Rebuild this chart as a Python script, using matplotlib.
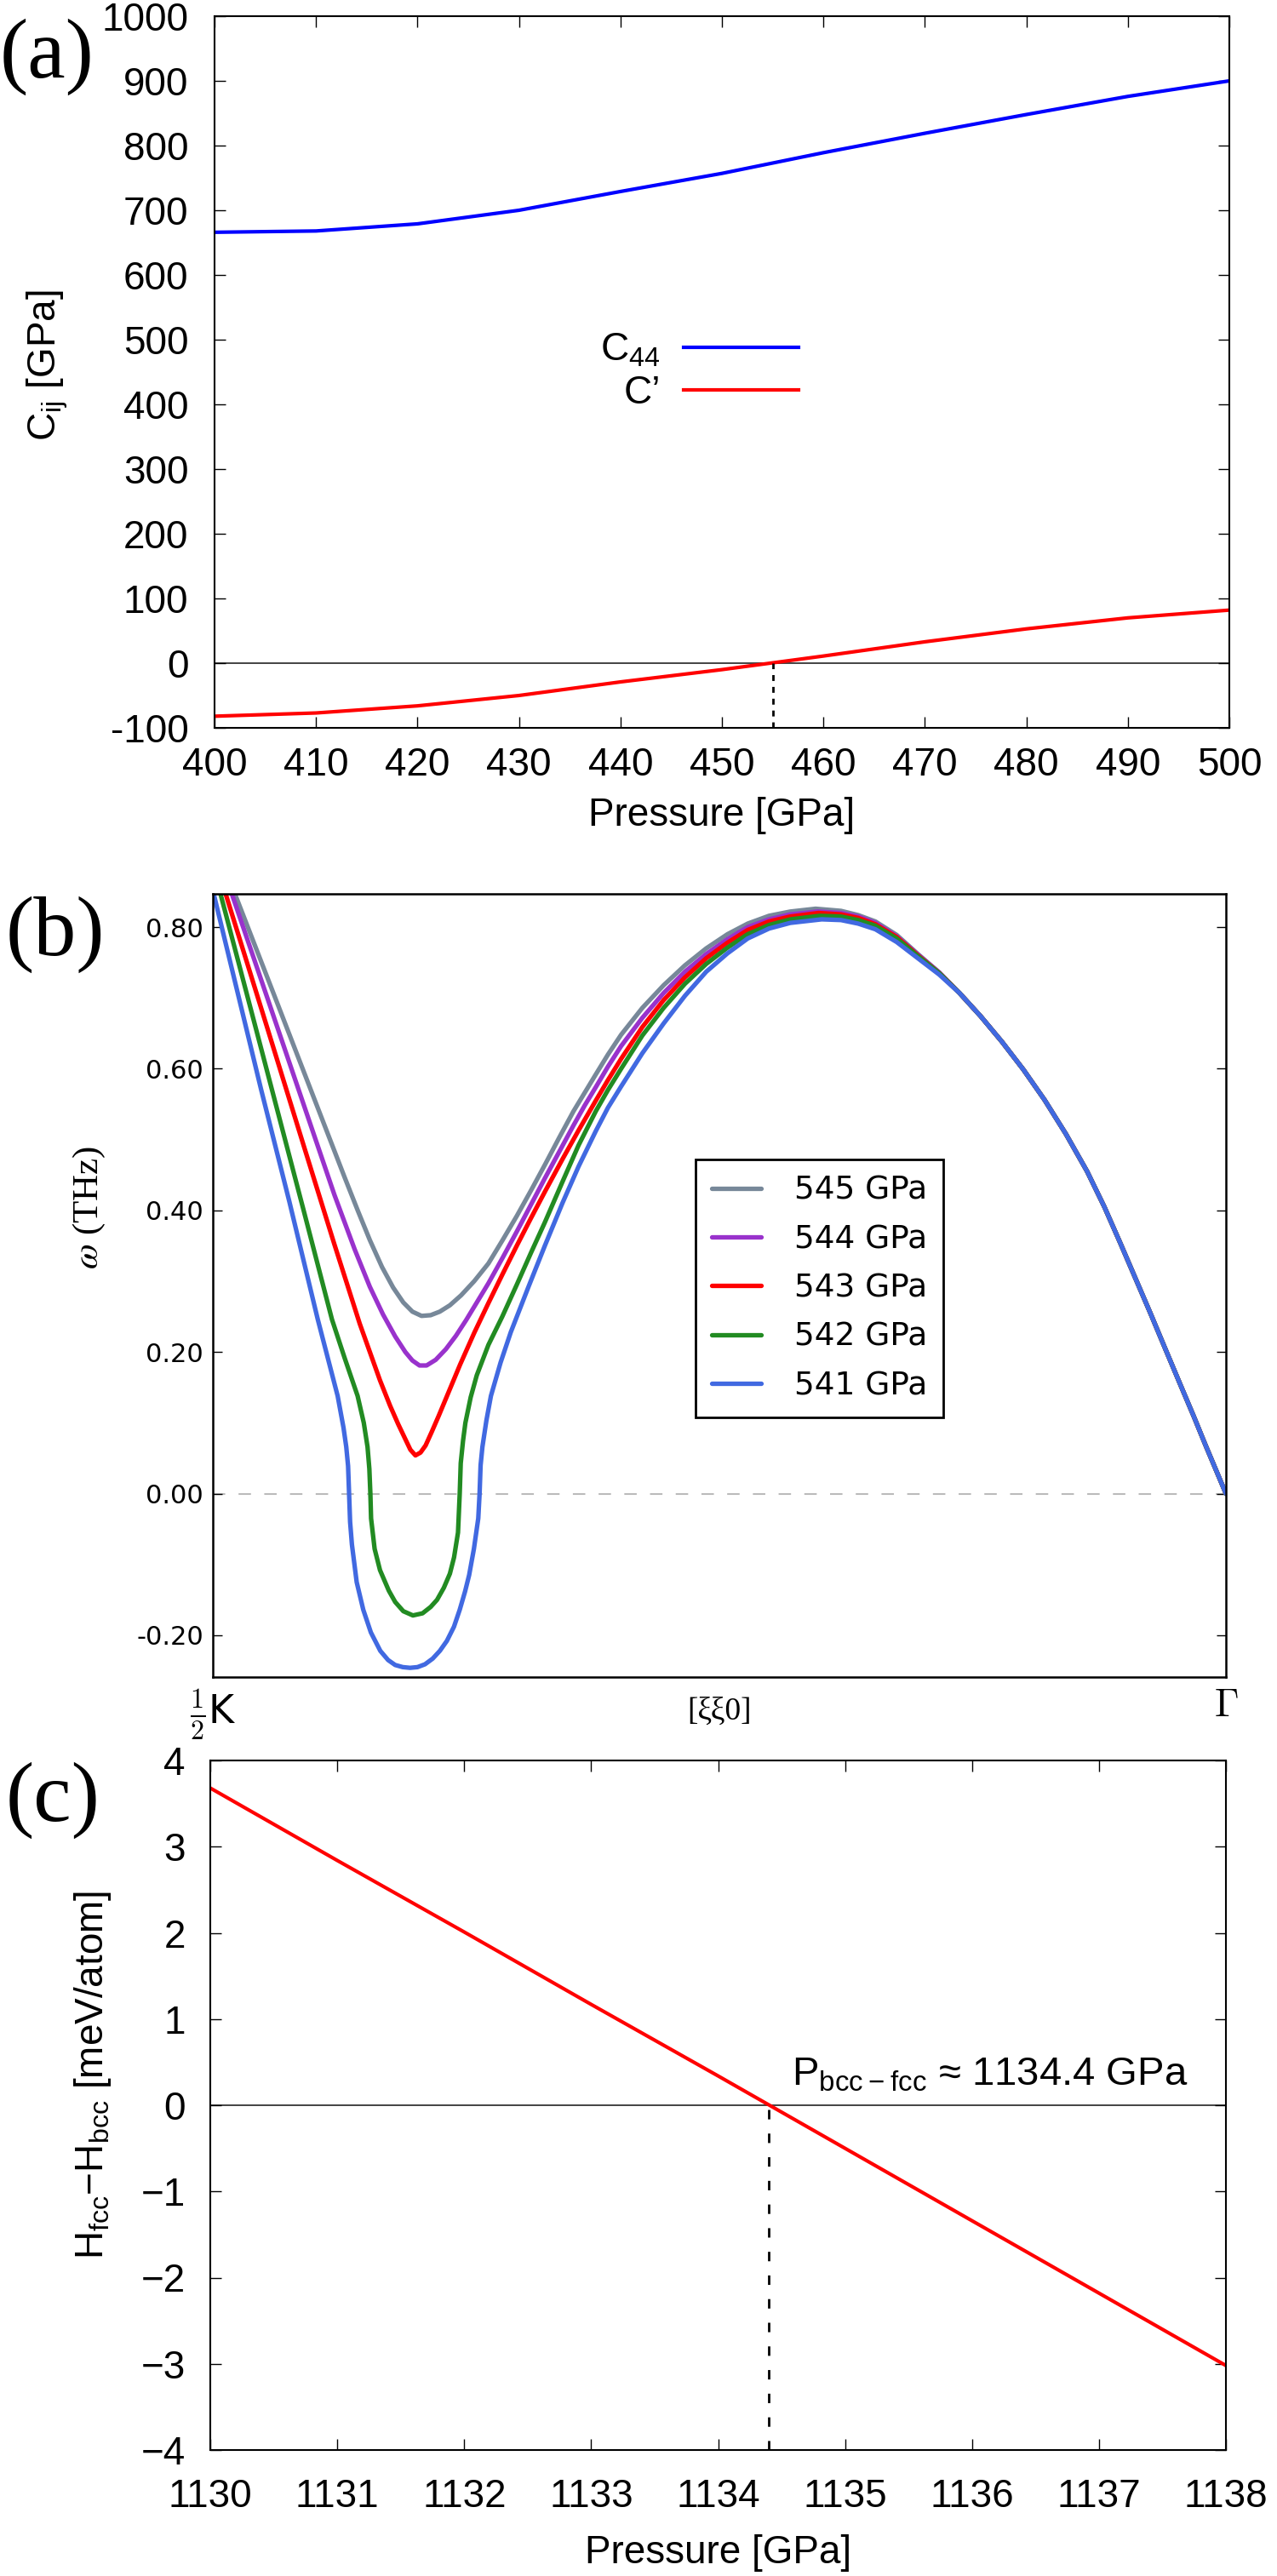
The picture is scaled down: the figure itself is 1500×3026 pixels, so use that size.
import matplotlib
matplotlib.use("Agg")
import matplotlib.pyplot as plt
from matplotlib.ticker import FuncFormatter, MultipleLocator

plt.rcParams['font.family'] = ['Liberation Sans', 'DejaVu Sans']

# ---- panel (a): elastic constants vs pressure
pressure_a = [400, 410, 420, 430, 440, 450, 460, 470, 480, 490, 500]
c44 = [666, 668, 679, 700, 729, 757, 789, 819, 848, 876, 900]
c_prime = [-82, -77, -66, -50, -29, -10, 11, 33, 53, 70, 82]
p_cross_a = 455

# ---- panel (b): phonon branch along [xi xi 0]
# all five pressures coincide past q ~ 0.73
q_tail = [0.737, 0.758, 0.779, 0.800, 0.821, 0.842, 0.863, 0.880,
          0.896, 0.911, 0.926, 0.940, 0.955, 0.968, 0.980, 1.000]
w_tail = [0.707, 0.674, 0.638, 0.599, 0.556, 0.508, 0.455, 0.405,
          0.353, 0.303, 0.253, 0.205, 0.154, 0.110, 0.068, 0.000]

q_545 = [0.000, 0.021, 0.060, 0.100, 0.130, 0.143, 0.155, 0.167, 0.178, 0.188,
         0.197, 0.206, 0.215, 0.224, 0.234, 0.245, 0.258, 0.272, 0.286, 0.300,
         0.314, 0.328, 0.342, 0.356, 0.367, 0.378, 0.390, 0.403, 0.424, 0.445,
         0.466, 0.487, 0.508, 0.528, 0.549, 0.570, 0.595, 0.620, 0.637, 0.654,
         0.675, 0.696, 0.717]
w_545 = [0.928, 0.850, 0.706, 0.558, 0.447, 0.400, 0.358, 0.320, 0.291, 0.270,
         0.257, 0.251, 0.252, 0.257, 0.266, 0.280, 0.300, 0.325, 0.358, 0.392,
         0.428, 0.465, 0.503, 0.540, 0.566, 0.592, 0.620, 0.648, 0.686, 0.718,
         0.746, 0.770, 0.790, 0.805, 0.816, 0.822, 0.826, 0.823, 0.817, 0.808,
         0.789, 0.762, 0.736]

q_544 = [0.000, 0.018, 0.050, 0.090, 0.120, 0.140, 0.155, 0.168, 0.180, 0.190,
         0.197, 0.204, 0.211, 0.220, 0.230, 0.240, 0.250, 0.261, 0.272, 0.286,
         0.300, 0.314, 0.328, 0.342, 0.356, 0.367, 0.378, 0.390, 0.403, 0.424,
         0.445, 0.466, 0.487, 0.508, 0.528, 0.549, 0.570, 0.597, 0.620, 0.637,
         0.654, 0.675, 0.696, 0.717]
w_544 = [0.926, 0.850, 0.716, 0.548, 0.422, 0.345, 0.292, 0.253, 0.222, 0.200,
         0.188, 0.181, 0.181, 0.189, 0.204, 0.223, 0.245, 0.271, 0.297, 0.333,
         0.370, 0.408, 0.446, 0.483, 0.520, 0.548, 0.574, 0.603, 0.632, 0.672,
         0.707, 0.737, 0.762, 0.783, 0.800, 0.811, 0.818, 0.822, 0.820, 0.815,
         0.806, 0.787, 0.761, 0.736]

q_543 = [0.000, 0.012, 0.050, 0.090, 0.120, 0.145, 0.165, 0.175, 0.183, 0.190,
         0.195, 0.200, 0.205, 0.210, 0.216, 0.223, 0.230, 0.244, 0.258, 0.272,
         0.286, 0.300, 0.314, 0.328, 0.345, 0.361, 0.378, 0.390, 0.403, 0.424,
         0.445, 0.466, 0.487, 0.508, 0.528, 0.549, 0.570, 0.598, 0.620, 0.637,
         0.654, 0.675, 0.696, 0.717]
w_543 = [0.905, 0.850, 0.675, 0.490, 0.352, 0.240, 0.160, 0.124, 0.098, 0.077,
         0.062, 0.054, 0.058, 0.068, 0.087, 0.110, 0.134, 0.182, 0.227, 0.269,
         0.310, 0.350, 0.389, 0.427, 0.472, 0.513, 0.555, 0.584, 0.614, 0.659,
         0.697, 0.729, 0.756, 0.778, 0.796, 0.808, 0.815, 0.820, 0.818, 0.813,
         0.804, 0.786, 0.760, 0.735]

q_542 = [0.000, 0.007, 0.050, 0.090, 0.1176, 0.130, 0.1429, 0.149, 0.1527,
         0.1545, 0.1555, 0.1562, 0.1597, 0.165, 0.1737, 0.180, 0.188, 0.1975,
         0.207, 0.215, 0.2213, 0.228, 0.234, 0.2381, 0.242, 0.2437, 0.2447,
         0.2470, 0.2493, 0.2545, 0.2605, 0.2720, 0.2857, 0.300, 0.314, 0.3277,
         0.345, 0.361, 0.378, 0.390, 0.403, 0.424, 0.445, 0.466, 0.487, 0.508,
         0.528, 0.549, 0.570, 0.599, 0.620, 0.637, 0.654, 0.675, 0.696, 0.717]
w_542 = [0.888, 0.850, 0.616, 0.398, 0.246, 0.192, 0.138, 0.100, 0.066,
         0.035, 0.000, -0.035, -0.078, -0.108, -0.137, -0.153, -0.166, -0.172,
         -0.169, -0.160, -0.150, -0.133, -0.113, -0.090, -0.055, 0.000, 0.043,
         0.075, 0.100, 0.136, 0.167, 0.210, 0.250, 0.295, 0.340, 0.383,
         0.440, 0.492, 0.540, 0.570, 0.600, 0.647, 0.686, 0.720, 0.748, 0.771,
         0.790, 0.803, 0.811, 0.816, 0.815, 0.810, 0.802, 0.784, 0.759, 0.735]

q_541 = [0.000, 0.0476, 0.0756, 0.1036, 0.1232, 0.1290, 0.1317, 0.1335, 0.1345,
         0.1355, 0.1373, 0.1420, 0.1485, 0.1560, 0.1653, 0.1730, 0.1800, 0.1875,
         0.1947, 0.2020, 0.2094, 0.2170, 0.2241, 0.2310, 0.2380, 0.2437, 0.2490,
         0.2530, 0.2577, 0.2620, 0.2633, 0.2643, 0.2661, 0.2700, 0.2745, 0.2840,
         0.2941, 0.3110, 0.3277, 0.3450, 0.3610, 0.3780, 0.3900, 0.4030, 0.4240,
         0.4450, 0.4660, 0.4870, 0.5080, 0.5280, 0.5490, 0.5700, 0.6010, 0.6200,
         0.6370, 0.6540, 0.6750, 0.6960, 0.7170]
w_541 = [0.852, 0.571, 0.412, 0.246, 0.138, 0.093, 0.066, 0.039, 0.000,
         -0.040, -0.072, -0.125, -0.164, -0.196, -0.222, -0.235, -0.242, -0.245,
         -0.246, -0.245, -0.241, -0.233, -0.222, -0.208, -0.188, -0.164, -0.138,
         -0.115, -0.078, -0.035, 0.000, 0.040, 0.066, 0.103, 0.138, 0.185,
         0.228, 0.290, 0.350, 0.410, 0.462, 0.512, 0.545, 0.575, 0.622,
         0.664, 0.703, 0.737, 0.763, 0.784, 0.798, 0.806, 0.811, 0.810,
         0.805, 0.797, 0.779, 0.756, 0.733]

branches = [
    ("545 GPa", "#778899", q_545, w_545),
    ("544 GPa", "#9932CC", q_544, w_544),
    ("543 GPa", "#FF0000", q_543, w_543),
    ("542 GPa", "#228B22", q_542, w_542),
    ("541 GPa", "#4169E1", q_541, w_541),
]
kpath_labels = [r"$\frac{1}{2}$K", "[ξξ0]", r"$\Gamma$"]

# ---- panel (c): enthalpy difference fcc - bcc
pressure_c = [1130, 1131, 1132, 1133, 1134, 1135, 1136, 1137, 1138]
dH = [3.68, 2.84, 2.01, 1.17, 0.34, -0.50, -1.34, -2.18, -3.02]
p_cross_c = 1134.4

W, H = 1500, 3026
fig = plt.figure(figsize=(15, 30.26), dpi=100)


def box(left, top, right, bottom):
    return [left / W, 1 - bottom / H, (right - left) / W, (bottom - top) / H]


FS = 33

# ======================= (a)
ax = fig.add_axes(box(252, 19, 1444, 855))
ax.plot(pressure_a, c44, color="blue", lw=3, label=r"C$_{\mathregular{44}}$")
ax.plot(pressure_a, c_prime, color="red", lw=3, label="C’")
ax.axhline(0, color="#222222", lw=1.2, zorder=1)
ax.plot([p_cross_a, p_cross_a], [-100, 0], color="black", lw=2, ls=(0, (2.5, 2.5)))
ax.set_xlim(400, 500)
ax.set_ylim(-100, 1000)
ax.xaxis.set_major_locator(MultipleLocator(10))
ax.yaxis.set_major_locator(MultipleLocator(100))
ax.xaxis.set_major_formatter(FuncFormatter(lambda v, p: "%d" % v))
ax.yaxis.set_major_formatter(FuncFormatter(lambda v, p: "%d" % v))
ax.tick_params(direction="in", top=True, right=True, length=9.5, width=1,
               labelsize=FS)
ax.tick_params(axis="x", pad=16)
ax.tick_params(axis="y", pad=22)
for s in ax.spines.values():
    s.set_linewidth(1.5)
ax.set_xlabel("Pressure [GPa]", fontsize=FS)
ax.set_ylabel(r"C$_{\mathregular{ij}}$ [GPa]", fontsize=FS)
ax.xaxis.set_label_coords(0.5, -0.097)
ax.yaxis.set_label_coords(-0.143, 0.51)
ax.legend(loc="center", bbox_to_anchor=(0.478, 0.5), frameon=False,
          markerfirst=False, fontsize=FS, handlelength=2.95,
          handletextpad=0.6, labelspacing=0.15, borderpad=0, borderaxespad=0)

# ======================= (b)
ax = fig.add_axes(box(250, 1050, 1440, 1970))
ax.axhline(0, color="#bbbbbb", lw=1.5, dashes=(7, 7.5), zorder=1)
for name, col, q, w in branches:
    ax.plot(q + q_tail, w + w_tail, color=col, lw=3.8, label=name,
            solid_capstyle="round", solid_joinstyle="round")
ax.set_xlim(0, 1)
ax.set_ylim(-0.259, 0.847)
ax.set_yticks([-0.2, 0.0, 0.2, 0.4, 0.6, 0.8])
ax.yaxis.set_major_formatter(FuncFormatter(lambda v, p: "%.2f" % v))
ax.tick_params(axis="y", direction="in", left=True, right=True, length=8,
               width=1, pad=8, labelsize=22, labelfontfamily="DejaVu Sans")
ax.set_xticks([0, 0.5, 1])
ax.set_xticklabels(kpath_labels)
ax.tick_params(axis="x", length=0, pad=9)
labs = ax.get_xticklabels()
labs[0].set_fontfamily("DejaVu Sans")
labs[0].set_math_fontfamily("cm")
labs[0].set_fontsize(33)
labs[1].set_fontfamily("Liberation Serif")
labs[1].set_fontsize(27)
labs[1].set_y(-0.012)
labs[2].set_math_fontfamily("cm")
labs[2].set_fontsize(33)
for s in ax.spines.values():
    s.set_linewidth(1.8)
ax.set_ylabel(r"$\omega$ (THz)", fontsize=31, fontfamily="Liberation Serif",
              math_fontfamily="stix")
ax.yaxis.set_label_coords(-0.104, 0.6)
leg = ax.legend(loc="upper left", bbox_to_anchor=(0.4765, 0.661),
                borderaxespad=0, fancybox=False, edgecolor="black",
                framealpha=1, prop={"family": "DejaVu Sans", "size": 27},
                handlelength=1.55, handletextpad=1.05, labelspacing=0.57,
                borderpad=0.5)
leg.get_frame().set_linewidth(2)

# ======================= (c)
ax = fig.add_axes(box(247, 2068, 1440, 2878))
ax.plot(pressure_c, dH, color="red", lw=3)
ax.axhline(0, color="#222222", lw=1.2, zorder=1)
ax.plot([p_cross_c, p_cross_c], [-4, 0], color="black", lw=2, ls=(0, (4, 6)))
ax.set_xlim(1130, 1138)
ax.set_ylim(-4, 4)
ax.xaxis.set_major_locator(MultipleLocator(1))
ax.yaxis.set_major_locator(MultipleLocator(1))
ax.xaxis.set_major_formatter(FuncFormatter(lambda v, p: "%d" % v))
ax.yaxis.set_major_formatter(
    FuncFormatter(lambda v, p: ("%d" % v).replace("-", "\u2212")))
ax.tick_params(direction="in", top=True, right=True, length=9.5, width=1,
               labelsize=FS)
ax.tick_params(axis="x", pad=24)
ax.tick_params(axis="y", pad=21)
for s in ax.spines.values():
    s.set_linewidth(1.5)
ax.set_xlabel("Pressure [GPa]", fontsize=FS)
ax.set_ylabel("H$_{\\mathregular{fcc}}$\u2212H$_{\\mathregular{bcc}}$ [meV/atom]",
              fontsize=FS)
ax.xaxis.set_label_coords(0.5, -0.122)
ax.yaxis.set_label_coords(-0.0956, 0.544)
ax.text(1137.70, 0.23, r"P$_{\mathregular{bcc-fcc}}$ ≈ %.1f GPa" % p_cross_c,
        fontsize=34, va="baseline", ha="right")

# panel tags
for tag, x, y in [("(a)", 55, 67), ("(b)", 65, 1098), ("(c)", 62, 2115)]:
    fig.text(x / W, 1 - y / H, tag, fontsize=72, family="Liberation Serif",
             ha="center", va="center")

fig.savefig("out.png", dpi=100)
